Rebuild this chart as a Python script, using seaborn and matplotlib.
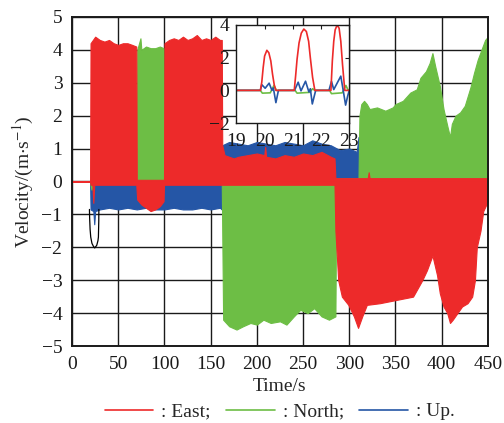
import matplotlib
matplotlib.use("Agg")
import matplotlib.pyplot as plt
from matplotlib.lines import Line2D
import seaborn as sns

# 颜色
c_east = "#ED2A2A"
c_north = "#6DBE45"
c_up = "#2556A6"

# 主图：各分量振荡包络（从原图读取，上包络 / 下包络）
east_up_t = [0, 19.5, 20, 25, 30, 35, 40, 45, 50, 55, 60, 65, 69.5, 70, 99.5, 100, 105, 110, 115, 120,
             125, 130, 135, 140, 145, 150, 155, 160, 162, 162.5, 165, 170, 175, 180, 190, 200, 208, 209,
             210, 220, 230, 240, 250, 260, 270, 280, 284, 285, 320, 321, 322, 450]
east_up = [0, 0, 4.2, 4.4, 4.3, 4.25, 4.3, 4.2, 4.15, 4.2, 4.2, 4.15, 4.1, 0.05, 0.05, 4.2, 4.3, 4.35, 4.3, 4.4,
           4.3, 4.35, 4.45, 4.3, 4.35, 4.3, 4.4, 4.3, 4.3, 1.1, 0.8, 0.75, 0.7, 0.75, 0.8, 0.85, 0.8, 1.05,
           0.75, 0.7, 0.8, 0.75, 0.85, 0.8, 0.9, 0.75, 0.7, 0.1, 0.1, 0.28, 0.1, 0.1]
east_dn_t = [0, 19.5, 20, 22, 23, 24, 69.5, 70.5, 75, 80, 85, 90, 95, 99, 99.5, 100, 284, 285, 288, 292,
             299, 305, 309.5, 314, 319, 333, 351, 369, 379, 384, 390, 395, 398, 402, 406, 409, 412, 417,
             422, 428, 433, 436, 438, 442, 445, 450]
east_dn = [0, 0, -0.1, -0.1, -0.65, -0.1, -0.1, -0.55, -0.7, -0.8, -0.9, -0.85, -0.75, -0.6, -0.1, -0.1,
           -0.1, -1.5, -3.0, -3.5, -3.75, -4.1, -4.45, -4.1, -3.75, -3.7, -3.6, -3.5, -3.0, -2.7, -2.25,
           -2.85, -3.4, -3.8, -4.0, -4.3, -4.2, -4.0, -3.8, -3.7, -3.5, -3.0, -2.0, -1.5, -0.9, -0.6]

north_up_t = [0, 70, 70.5, 74, 75, 80, 85, 90, 95, 99, 99.5, 310, 311, 313, 316, 319, 322, 330, 339, 347,
              350, 358, 366, 373, 377, 383, 387, 390, 393, 398, 402, 406, 409, 411, 415, 420, 425, 431,
              435, 439, 443, 447, 450]
north_up = [0, 0, 4.0, 4.35, 4.0, 4.1, 4.05, 4.05, 4.1, 4.05, 0, 0.1, 2.0, 2.35, 2.45, 2.35, 2.2, 2.25,
            2.15, 2.25, 2.35, 2.45, 2.7, 2.8, 3.15, 3.35, 3.6, 3.9, 3.5, 2.9, 2.2, 1.7, 1.35, 1.75, 2.0,
            2.1, 2.3, 2.85, 3.3, 3.7, 4.0, 4.3, 4.4]
north_dn_t = [0, 19.5, 20, 21, 22, 23, 162, 163.5, 170, 178, 185, 193, 200, 207, 215, 225, 232, 240, 247,
              255, 262, 270, 278, 285, 286, 450]
north_dn = [0, 0, -0.1, -0.25, -0.1, -0.05, -0.05, -4.2, -4.4, -4.5, -4.4, -4.3, -4.35, -4.2, -4.3, -4.25,
            -4.35, -4.1, -3.9, -4.0, -3.85, -4.1, -4.2, -4.1, 0, 0]

up_up_t = [0, 162, 162.5, 170, 180, 190, 200, 210, 220, 230, 240, 250, 260, 270, 280, 290, 300, 308, 310, 450]
up_up = [0, 0, 1.1, 1.2, 1.15, 1.1, 1.2, 1.15, 1.1, 1.2, 1.15, 1.1, 1.25, 1.15, 1.1, 0.95, 1.0, 0.9, 1.35, 1.4]
up_dn_t = [0, 19.5, 20, 23, 24, 25, 30, 40, 50, 60, 70, 80, 90, 100, 110, 120, 130, 140, 150, 160, 162,
           162.5, 450]
up_dn = [0, 0, -0.85, -0.9, -1.3, -0.9, -0.85, -0.8, -0.85, -0.8, -0.85, -0.8, -0.85, -0.85, -0.8, -0.85,
         -0.85, -0.8, -0.85, -0.8, -0.85, 0, 0]

# 起始处的黑色曲线
black_t = [18.8, 19.0, 19.5, 20.2, 21.5, 23.1, 24.5, 26.7, 28.0, 28.5, 28.9, 29.0]
black_v = [-0.85, -1.1, -1.45, -1.69, -1.88, -1.97, -2.02, -1.94, -1.8, -1.69, -1.2, -0.85]

# 局部放大图 (19-23 s)
ins_t_e = [19.0, 19.85, 19.9, 19.95, 20.0, 20.08, 20.15, 20.22, 20.28, 20.34, 20.4, 21.05, 21.1, 21.15,
           21.22, 21.3, 21.39, 21.48, 21.56, 21.62, 21.7, 21.78, 22.35, 22.4, 22.45, 22.5, 22.57, 22.64,
           22.7, 22.76, 22.84, 23.0]
ins_e = [0, 0, 0.5, 1.4, 2.1, 2.45, 2.3, 1.8, 1.0, 0.35, 0, 0, 0.9, 1.9, 2.9, 3.5, 3.75, 3.6, 3.0, 2.0,
         0.8, 0, 0, 1.8, 3.0, 3.7, 4.0, 3.8, 3.0, 1.6, 0, 0]
ins_t_n = [19.0, 19.85, 19.92, 20.2, 20.33, 20.42, 21.08, 21.15, 21.6, 21.7, 21.78, 22.3, 22.37, 22.75,
           22.88, 22.95, 23.0]
ins_n = [0, 0, -0.17, -0.15, 0.3, 0, 0, -0.17, -0.12, 0.1, 0, 0, -0.2, -0.15, 0.3, 0.05, 0]
ins_t_u = [19.0, 19.85, 19.9, 20.02, 20.16, 20.26, 20.31, 20.4, 20.49, 21.06, 21.19, 21.29, 21.45, 21.57,
           21.62, 21.69, 21.81, 22.28, 22.37, 22.45, 22.7, 22.79, 22.87, 22.95, 23.0]
ins_u = [0, 0, 0.35, 0.13, 0.44, 0.0, 0.15, -0.75, 0, 0, 0.5, -0.03, 0.56, -0.1, 0.1, -0.83, 0, 0, 0.55,
         0.05, 0.87, -0.05, -0.9, -0.3, 0]

x_ticks = [0, 50, 100, 150, 200, 250, 300, 350, 400, 450]
y_ticks = [-5, -4, -3, -2, -1, 0, 1, 2, 3, 4, 5]
ins_x_ticks = [19, 20, 21, 22, 23]
ins_y_ticks = [-2, 0, 2, 4]

# 绘图风格
sns.set_theme(style="white")
plt.rcParams["font.family"] = ["Liberation Serif", "DejaVu Serif"]
plt.rcParams["mathtext.fontset"] = "stix"
plt.rcParams["axes.unicode_minus"] = True

fig = plt.figure(figsize=(5.04, 4.23), dpi=100)
ax = fig.add_axes([0.143, 0.182, 0.825, 0.778])

# 先画 Up，再 North，最后 East（与原图遮挡关系一致）
for t, v, c in [(up_up_t, up_up, c_up), (up_dn_t, up_dn, c_up),
                (north_up_t, north_up, c_north), (north_dn_t, north_dn, c_north),
                (east_up_t, east_up, c_east), (east_dn_t, east_dn, c_east)]:
    ax.fill_between(t, 0, v, color=c, edgecolor=c, linewidth=0.8)

sns.lineplot(x=black_t, y=black_v, color="black", linewidth=0.9, ax=ax, sort=False)

ax.set_xlim(0, 450)
ax.set_ylim(-5, 5)
ax.set_xticks(x_ticks)
ax.set_yticks(y_ticks)
ax.grid(True, color="#1a1a1a", linewidth=1.0)
ax.set_axisbelow(True)
for sp in ax.spines.values():
    sp.set_color("#1a1a1a")
    sp.set_linewidth(1.4)
ax.tick_params(labelsize=14, length=0, pad=7, colors="#1a1a1a")
ax.set_xlabel("Time/s", fontsize=14, labelpad=4)
ax.set_ylabel(r"Velocity/(m$\cdot$s$^{-1}$)", fontsize=14, labelpad=4)

# 局部放大图
axin = fig.add_axes([0.469, 0.709, 0.224, 0.232])
axin.set_facecolor("white")
sns.lineplot(x=ins_t_n, y=ins_n, color=c_north, linewidth=1.2, ax=axin, sort=False)
sns.lineplot(x=ins_t_u, y=ins_u, color=c_up, linewidth=1.2, ax=axin, sort=False)
sns.lineplot(x=ins_t_e, y=ins_e, color=c_east, linewidth=1.2, ax=axin, sort=False)
axin.set_xlim(19, 23)
axin.set_ylim(-2, 4)
axin.set_xticks(ins_x_ticks)
axin.set_yticks(ins_y_ticks)
axin.set_xlabel("")
axin.set_ylabel("")
axin.grid(False)
for sp in axin.spines.values():
    sp.set_color("#1a1a1a")
    sp.set_linewidth(1.0)
axin.tick_params(direction="in", length=3, width=0.8, labelsize=14, pad=5,
                 top=True, right=True, colors="#1a1a1a")
axin.tick_params(axis="x", pad=7)

# 图例
handles = [Line2D([], [], color=c_east, lw=1.2),
           Line2D([], [], color=c_north, lw=1.2),
           Line2D([], [], color=c_up, lw=1.2)]
fig.legend(handles, [": East;", ": North;", ": Up."], loc="center", bbox_to_anchor=(0.555, 0.027),
           ncol=3, frameon=False, fontsize=14, handlelength=2.5, handletextpad=0.4, columnspacing=0.8)

fig.savefig("out.png", dpi=100)
plt.close(fig)
